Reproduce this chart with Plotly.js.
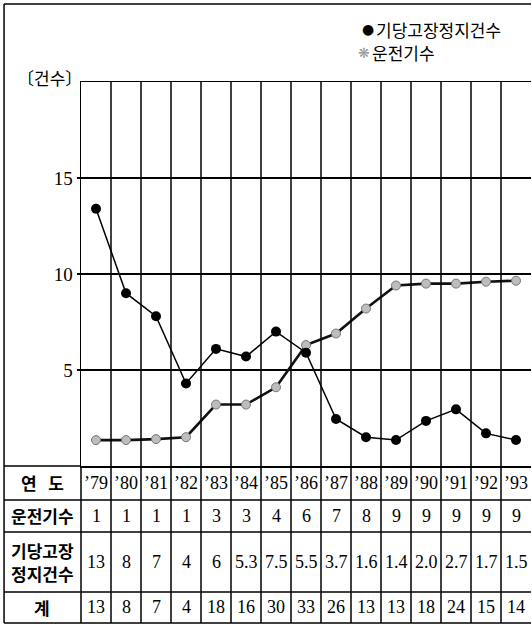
<!DOCTYPE html>
<html>
<head>
<meta charset="utf-8">
<script src="https://cdn.plot.ly/plotly-3.0.1.min.js"></script>
<style>html,body{margin:0;padding:0;background:#fff;}#chart{width:532px;height:626px;}</style>
</head>
<body>
<div id="chart"></div>
<script>
// ---- data ----
const years = ["'79","'80","'81","'82","'83","'84","'85","'86","'87","'88","'89","'90","'91","'92","'93"];
// plotted values
const failuresPlot = [13.4, 9.0, 7.8, 4.3, 6.1, 5.7, 7.0, 5.9, 2.45, 1.5, 1.35, 2.35, 2.95, 1.7, 1.35];
const enginesPlot  = [1.35, 1.35, 1.4, 1.5, 3.2, 3.2, 4.1, 6.3, 6.9, 8.2, 9.4, 9.5, 9.5, 9.6, 9.65];
// table values
const enginesTable  = ["1","1","1","1","3","3","4","6","7","8","9","9","9","9","9"];
const failuresTable = ["13","8","7","4","6","5.3","7.5","5.5","3.7","1.6","1.4","2.0","2.7","1.7","1.5"];
const totalsTable   = ["13","8","7","4","18","16","30","33","26","13","13","18","24","15","14"];
const rowLabels = ["연&nbsp;&nbsp;&nbsp;도", "운전기수", ["기당고장", "정지건수"], "계"];
const legendNames = ["기당고장정지건수", "운전기수"];
const yUnit = "〔건수〕";
const yTicks = [5, 10, 15];

// ---- layout helpers ----
const serif = "Liberation Serif, DejaVu Serif, serif";
const kr = "Noto Sans CJK KR, sans-serif";
const rowCenters = [-0.044, -0.130, -0.250, -0.368];
const splitRow = [-0.220, -0.280];
const rowLines = [-0.0885, -0.172, -0.328, -0.409];
const leftX = -0.171, topY = 1.203, bottomY = -0.409;
const lw = 1.5;

const traces = [
  {
    x: years, y: enginesPlot, type: 'scatter', mode: 'lines+markers',
    line: {color: '#111', width: 2.6},
    marker: {size: 9, color: '#bdbdbd', line: {color: '#777', width: 1}},
    name: legendNames[1], showlegend: false, hoverinfo: 'skip'
  },
  {
    x: years, y: failuresPlot, type: 'scatter', mode: 'lines+markers',
    line: {color: '#000', width: 1.5},
    marker: {size: 10, color: '#000'},
    name: legendNames[0], showlegend: false, hoverinfo: 'skip'
  }
];

const shapes = [];
for (let i = 0; i < years.length - 1; i++) {
  shapes.push({type: 'line', xref: 'x', yref: 'paper', x0: i + 0.5, x1: i + 0.5, y0: bottomY, y1: 1,
    line: {color: '#000', width: lw}});
}
shapes.push({type: 'line', xref: 'paper', yref: 'paper', x0: 0, x1: 0, y0: bottomY, y1: 0, line: {color: '#000', width: lw}});
shapes.push({type: 'line', xref: 'paper', yref: 'paper', x0: leftX, x1: 0, y0: 0, y1: 0, line: {color: '#000', width: lw}});
rowLines.forEach(y => shapes.push({type: 'line', xref: 'paper', yref: 'paper', x0: leftX, x1: 1, y0: y, y1: y, line: {color: '#000', width: lw}}));
shapes.push({type: 'line', xref: 'paper', yref: 'paper', x0: leftX, x1: leftX, y0: bottomY, y1: topY, line: {color: '#000', width: lw}});
shapes.push({type: 'line', xref: 'paper', yref: 'paper', x0: leftX, x1: 1, y0: topY, y1: topY, line: {color: '#000', width: lw}});

const annotations = [];
const numFont = {family: serif, size: 18, color: '#000'};
const labFont = {family: kr, size: 17, color: '#000'};
function ann(o) { return Object.assign({showarrow: false, xanchor: 'center', yanchor: 'middle'}, o); }
years.forEach((yr, i) => {
  annotations.push(ann({x: yr, y: rowCenters[0], xref: 'x', yref: 'paper', text: yr.replace("'", "’"), font: numFont}));
  annotations.push(ann({x: yr, y: rowCenters[1], xref: 'x', yref: 'paper', text: enginesTable[i], font: numFont}));
  annotations.push(ann({x: yr, y: rowCenters[2], xref: 'x', yref: 'paper', text: failuresTable[i], font: numFont}));
  annotations.push(ann({x: yr, y: rowCenters[3], xref: 'x', yref: 'paper', text: totalsTable[i], font: numFont}));
});
rowLabels.forEach((t, k) => {
  if (Array.isArray(t)) {
    t.forEach((part, j) => annotations.push(ann({x: -0.0856, y: splitRow[j], xref: 'paper', yref: 'paper',
      text: '<b>' + part + '</b>', font: labFont})));
  } else {
    annotations.push(ann({x: -0.0856, y: rowCenters[k], xref: 'paper', yref: 'paper', text: '<b>' + t + '</b>', font: labFont}));
  }
});
annotations.push(ann({x: -0.069, y: 1.013, xref: 'paper', yref: 'paper', text: yUnit, font: labFont}));
// legend
annotations.push(ann({x: 0.638, y: 1.137, xref: 'paper', yref: 'paper', text: '●',
  font: {family: 'DejaVu Sans', size: 14, color: '#000'}}));
annotations.push(ann({x: 0.650, y: 1.137, xref: 'paper', yref: 'paper', xanchor: 'left', text: legendNames[0],
  font: {family: kr, size: 17, color: '#000'}}));
annotations.push(ann({x: 0.629, y: 1.076, xref: 'paper', yref: 'paper', text: '❋',
  font: {family: 'DejaVu Sans', size: 14, color: '#999'}}));
annotations.push(ann({x: 0.643, y: 1.076, xref: 'paper', yref: 'paper', xanchor: 'left', text: legendNames[1],
  font: {family: kr, size: 17, color: '#000'}}));

const layout = {
  width: 532, height: 626,
  margin: {l: 81, r: 1, t: 82, b: 160, pad: 0},
  paper_bgcolor: '#fff', plot_bgcolor: '#fff',
  showlegend: false,
  xaxis: {type: 'category', range: [-0.5, 14.5], showticklabels: false, ticks: '', showgrid: false, zeroline: false,
    showline: true, mirror: true, linecolor: '#000', linewidth: lw, fixedrange: true},
  yaxis: {range: [0, 20], tickvals: yTicks, ticktext: yTicks.map(String), showgrid: true, gridcolor: '#000', gridwidth: lw,
    zeroline: false, showline: true, linecolor: '#000', linewidth: lw, ticks: 'outside', ticklen: 3, tickcolor: '#000',
    tickwidth: lw, tickfont: {family: serif, size: 19, color: '#000'}, fixedrange: true},
  shapes: shapes,
  annotations: annotations
};

Plotly.newPlot('chart', traces, layout, {displayModeBar: false, staticPlot: true});
</script>
</body>
</html>
